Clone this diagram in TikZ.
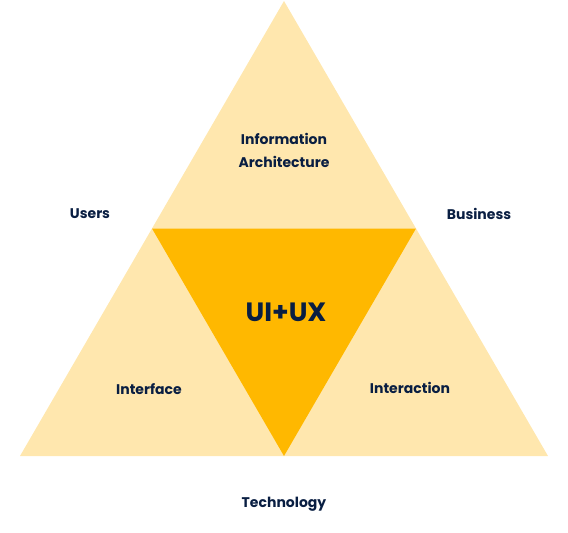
\documentclass[tikz,border=0pt]{standalone}
\usepackage{fontspec}
\setmainfont{Poppins}
\definecolor{lightY}{HTML}{FFE7AE}
\definecolor{darkY}{HTML}{FFB800}
\definecolor{navy}{HTML}{091E42}
\begin{document}
\begin{tikzpicture}[x=1pt,y=-1pt,
  lbl/.style={text=navy,font=\fontsize{14}{23}\selectfont\bfseries,align=center,inner sep=0pt},
  big/.style={text=navy,font=\fontsize{26.5}{28}\selectfont\bfseries,inner sep=0pt}]
\useasboundingbox (0,0) rectangle (568,533);
\coordinate (A) at (284,1);
\coordinate (L) at (20,456);
\coordinate (R) at (548,456);
\coordinate (ML) at (152,228.5);
\coordinate (MR) at (416,228.5);
\coordinate (MB) at (284,456);
\fill[lightY] (A) -- (L) -- (R) -- cycle;
\fill[darkY] (ML) -- (MR) -- (MB) -- cycle;
\node[lbl] (ia) at (284,150.5) {Information\\Architecture};
\node[big] (ux) at (286,312.5) {UI+UX};
\node[lbl] (users) at (90,214) {Users};
\node[lbl] (bus) at (479,214) {Business};
\node[lbl] (intf) at (149,389) {Interface};
\node[lbl] (intr) at (410,388) {Interaction};
\node[lbl] (tech) at (284,504) {Technology};
\end{tikzpicture}
\end{document}
